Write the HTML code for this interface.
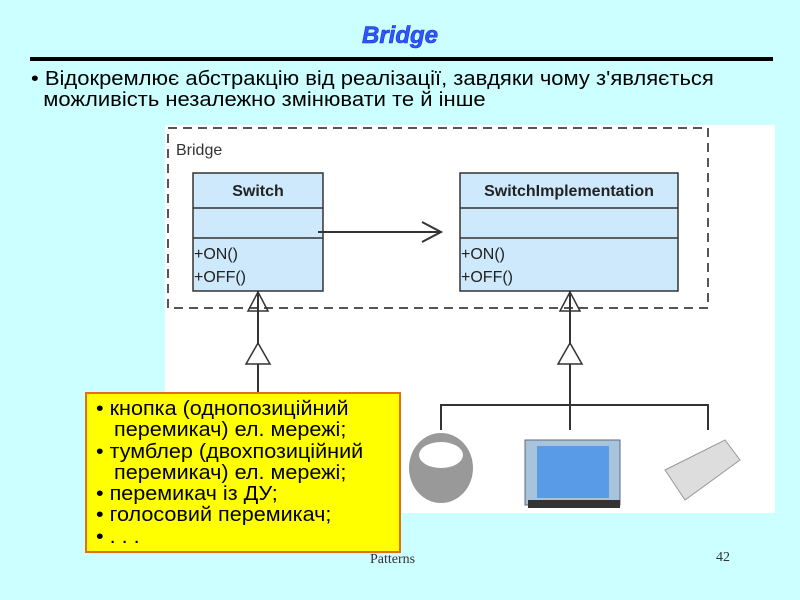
<!DOCTYPE html>
<html><head><meta charset="utf-8"><style>
body{margin:0;width:800px;height:600px;background:#ccffff;overflow:hidden;position:relative;font-family:"Liberation Sans",sans-serif}
.t{position:absolute;white-space:nowrap}
</style></head><body>
<div class="t" style="left:0;width:800px;top:22px;text-align:center;font-size:24px;font-weight:bold;font-style:italic;color:#3355ff;-webkit-text-stroke:0.6px #1133cc">Bridge</div>
<div style="position:absolute;left:30px;top:57px;width:743px;height:4px;background:#000"></div>
<div class="t" style="left:31px;top:69px;font-size:20px;line-height:21px;transform:scaleX(1.1);transform-origin:left top">• Відокремлює абстракцію від реалізації, завдяки чому з'являється<br>&nbsp;&nbsp;можливість незалежно змінювати те й інше</div>
<svg style="position:absolute;left:0;top:0" width="800" height="600">
<rect x="165" y="125" width="610" height="388" fill="#fff"/>
<rect x="168" y="128" width="540" height="180" fill="none" stroke="#555" stroke-width="2" stroke-dasharray="9,6"/>
<text x="176" y="155" font-family="Liberation Sans" font-size="16" fill="#333">Bridge</text>
<g stroke="#333" stroke-width="1.5" fill="#cde9fb">
<rect x="193" y="173" width="130" height="118"/><line x1="193" y1="208" x2="323" y2="208"/><line x1="193" y1="238" x2="323" y2="238"/>
<rect x="460" y="173" width="218" height="118"/><line x1="460" y1="208" x2="678" y2="208"/><line x1="460" y1="238" x2="678" y2="238"/>
</g>
<g font-family="Liberation Sans" fill="#222">
<text x="258" y="196" font-size="16" font-weight="bold" text-anchor="middle">Switch</text>
<text x="569" y="196" font-size="16" font-weight="bold" text-anchor="middle">SwitchImplementation</text>
<text x="194" y="259" font-size="16">+ON()</text><text x="194" y="282" font-size="16">+OFF()</text>
<text x="461" y="259" font-size="16">+ON()</text><text x="461" y="282" font-size="16">+OFF()</text>
</g>
<g stroke="#333" stroke-width="2" fill="none">
<line x1="318" y1="232" x2="440" y2="232"/><polyline points="422,222 441,232 422,242"/>
<line x1="258" y1="291" x2="258" y2="395"/>
<line x1="570" y1="291" x2="570" y2="405"/>
<polyline points="441,430 441,405 708,405 708,430"/><line x1="570" y1="405" x2="570" y2="430"/>
</g>
<g stroke="#333" stroke-width="1.5" fill="#fff">
<polygon points="258,292 248,311 268,311" fill="none"/>
<polygon points="258,343 246,364 270,364"/>
<polygon points="570,292 560,311 580,311" fill="none"/>
<polygon points="570,343 558,364 582,364"/>
</g>
<ellipse cx="441" cy="468" rx="32" ry="35" fill="#999"/><ellipse cx="441" cy="455" rx="22" ry="13" fill="#fff"/>
<rect x="525" y="440" width="95" height="65" fill="#a8c4dc" stroke="#667" stroke-width="1"/>
<rect x="537" y="446" width="72" height="52" fill="#5a9be8"/>
<rect x="528" y="500" width="92" height="8" fill="#333"/>
<polygon points="665,470 725,440 740,460 685,500" fill="#ddd" stroke="#999"/>
<rect x="86" y="393" width="314" height="159" fill="#ffff00" stroke="#e07020" stroke-width="2"/>
</svg>
<div class="t" style="left:96px;top:399px;font-size:20px;line-height:21.3px;color:#000;transform:scaleX(1.08);transform-origin:left top">• кнопка (однопозиційний<br>&nbsp;&nbsp;&nbsp;перемикач) ел. мережі;<br>• тумблер (двохпозиційний<br>&nbsp;&nbsp;&nbsp;перемикач) ел. мережі;<br>• перемикач із ДУ;<br>• голосовий перемикач;<br>• . . .</div>
<div class="t" style="left:370px;top:552px;font-family:'Liberation Serif',serif;font-size:14px;color:#333">Patterns</div>
<div class="t" style="left:716px;top:550px;font-family:'Liberation Serif',serif;font-size:14px;color:#333">42</div>
</body></html>
